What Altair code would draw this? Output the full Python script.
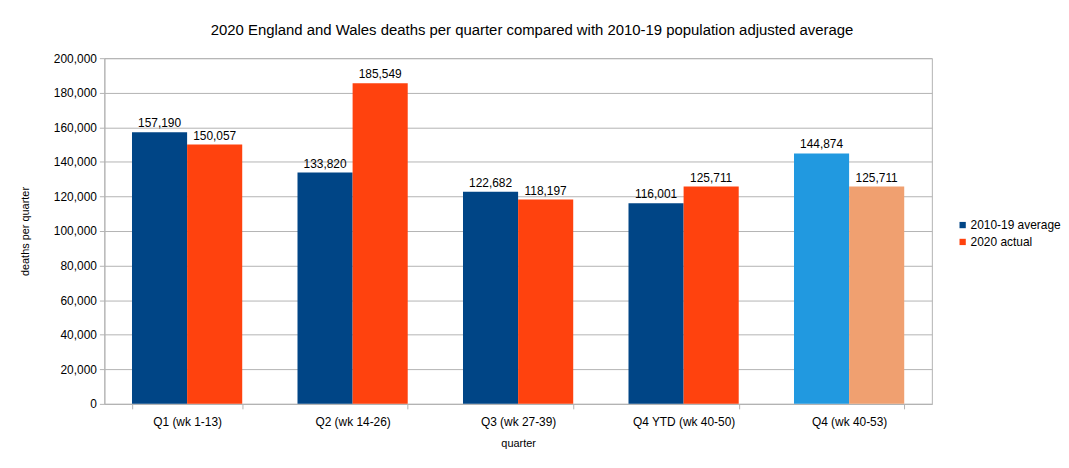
import altair as alt
import pandas as pd

categories = ["Q1 (wk 1-13)", "Q2 (wk 14-26)", "Q3 (wk 27-39)", "Q4 YTD (wk 40-50)", "Q4 (wk 40-53)"]
avg_values = [157190, 133820, 122682, 116001, 144874]
actual_values = [150057, 185549, 118197, 125711, 125711]
series = ["2010-19 average", "2020 actual"]
y_ticks = list(range(0, 200001, 20000))

rows = []
for i, c in enumerate(categories):
    last = i == len(categories) - 1
    rows.append({"quarter": c, "series": series[0], "value": avg_values[i],
                 "key": series[0] + (" " if last else "")})
    rows.append({"quarter": c, "series": series[1], "value": actual_values[i],
                 "key": series[1] + (" " if last else "")})
df = pd.DataFrame(rows)

keys = [series[0], series[1], series[0] + " ", series[1] + " "]
colors = ["#004586", "#ff420e", "#2199e0", "#f0a070"]

FONT = "Liberation Sans"

x = alt.X("quarter:N", sort=categories, title="quarter",
          scale=alt.Scale(paddingInner=0.334, paddingOuter=0.167),
          axis=alt.Axis(labelAngle=0, tickBand="extent", labelFontSize=12, titleFontSize=11,
                        labelColor="#000", titleColor="#000", labelPadding=8, titlePadding=10,
                        domainColor="#b3b3b3", tickColor="#b3b3b3", tickSize=5, grid=False,
                        labelFont=FONT, titleFont=FONT, titleFontWeight="normal"))
y = alt.Y("value:Q", title="deaths per quarter",
          scale=alt.Scale(domain=[0, 200000]),
          axis=alt.Axis(values=y_ticks, format=",d", labelFontSize=12, titleFontSize=11,
                        labelColor="#000", titleColor="#000", titlePadding=23,
                        domainColor="#b3b3b3", tickColor="#b3b3b3", gridColor="#b3b3b3",
                        tickSize=5, labelPadding=3, labelFont=FONT, titleFont=FONT,
                        titleFontWeight="normal"))
xo = alt.XOffset("series:N", sort=series)

bars = alt.Chart(df).mark_bar().encode(
    x=x, y=y, xOffset=xo,
    color=alt.Color("key:N", scale=alt.Scale(domain=keys, range=colors),
                    legend=alt.Legend(values=series, title=None, orient="none",
                                      legendX=858, legendY=162, symbolType="square",
                                      symbolSize=40, labelFontSize=12, labelFont=FONT,
                                      labelColor="#000", rowPadding=5, labelOffset=2,
                                      symbolStrokeWidth=0)),
)
labels = alt.Chart(df).mark_text(dy=-9, fontSize=12, font=FONT, color="#000").encode(
    x=x, y=y, xOffset=xo, text=alt.Text("value:Q", format=","),
)

chart = (bars + labels).properties(
    width=833, height=348,
    title=alt.TitleParams("2020 England and Wales deaths per quarter compared with 2010-19 population adjusted average",
                          fontSize=15, font=FONT, fontWeight="normal", color="#000",
                          anchor="middle", offset=14, dx=14),
    autosize=alt.AutoSizeParams(type="none"),
    padding={"left": 97, "top": 49, "right": 130, "bottom": 55},
).configure_view(stroke="#b3b3b3")

chart.save("out.html", embed_options={"renderer": "svg", "actions": False})
